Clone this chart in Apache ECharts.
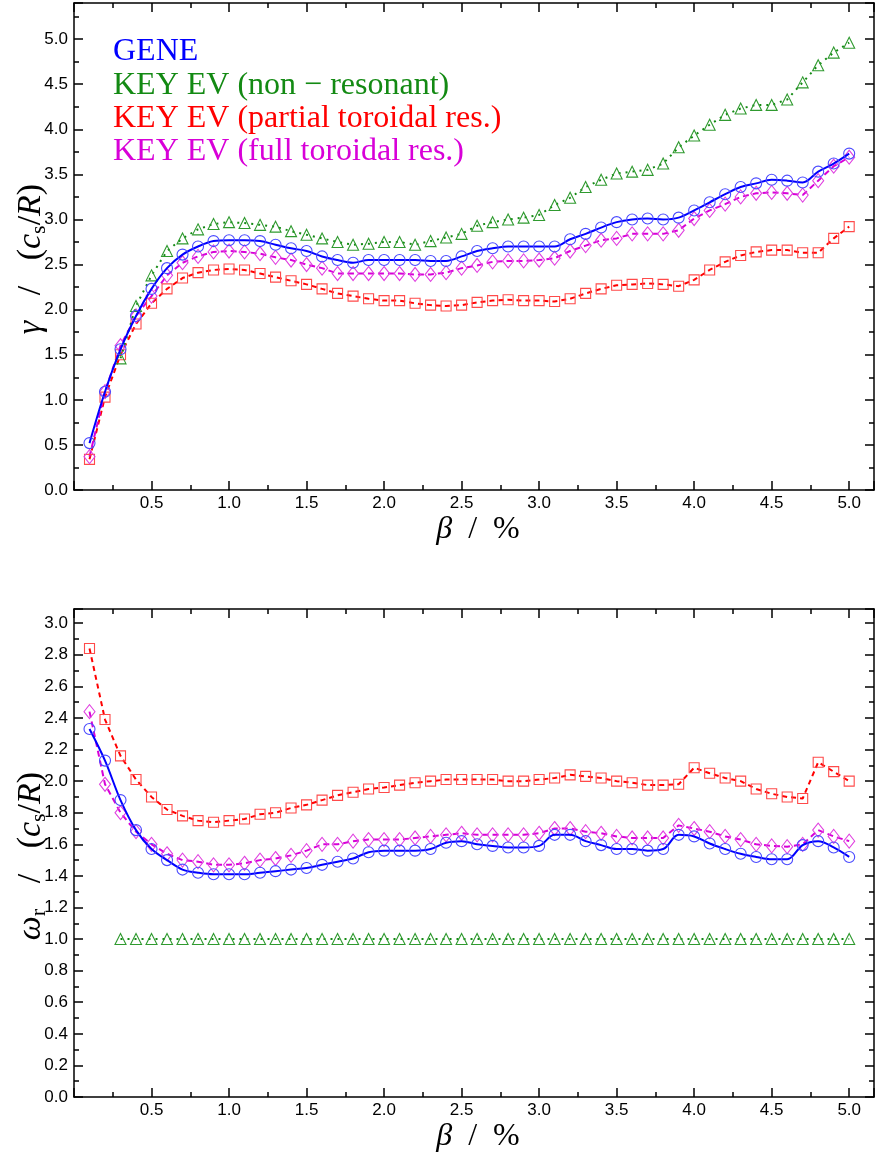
<!DOCTYPE html>
<html>
<head>
<meta charset="utf-8">
<title>Growth rate and real frequency vs beta</title>
<script src="https://cdn.jsdelivr.net/npm/echarts@6/dist/echarts.min.js"></script>
<style>
  html, body { margin: 0; padding: 0; background: #ffffff; }
  #chart { width: 876px; height: 1158px; }
</style>
</head>
<body>
<div id="chart"></div>
<script>
// beta in percent
const betas = [0.1, 0.2, 0.3, 0.4, 0.5, 0.6, 0.7, 0.8, 0.9, 1.0,
               1.1, 1.2, 1.3, 1.4, 1.5, 1.6, 1.7, 1.8, 1.9, 2.0,
               2.1, 2.2, 2.3, 2.4, 2.5, 2.6, 2.7, 2.8, 2.9, 3.0,
               3.1, 3.2, 3.3, 3.4, 3.5, 3.6, 3.7, 3.8, 3.9, 4.0,
               4.1, 4.2, 4.3, 4.4, 4.5, 4.6, 4.7, 4.8, 4.9, 5.0];

// growth rate gamma / (c_s/R)
const gammaGene = [0.52, 1.09, 1.56, 1.93, 2.23, 2.46, 2.61, 2.70, 2.76, 2.77,
                   2.77, 2.76, 2.72, 2.68, 2.65, 2.59, 2.55, 2.52, 2.55, 2.55,
                   2.55, 2.55, 2.54, 2.54, 2.59, 2.65, 2.68, 2.70, 2.70, 2.70,
                   2.70, 2.78, 2.84, 2.91, 2.97, 3.00, 3.01, 3.00, 3.02, 3.10,
                   3.19, 3.28, 3.36, 3.40, 3.44, 3.43, 3.41, 3.53, 3.62, 3.73];
const gammaNonRes = [null, null, 1.46, 2.04, 2.38, 2.65, 2.79, 2.89, 2.95, 2.97,
                     2.96, 2.94, 2.92, 2.87, 2.83, 2.79, 2.75, 2.72, 2.73, 2.75,
                     2.75, 2.72, 2.76, 2.80, 2.84, 2.93, 2.97, 3.00, 3.02, 3.05,
                     3.16, 3.24, 3.36, 3.44, 3.51, 3.53, 3.55, 3.62, 3.80, 3.93,
                     4.05, 4.16, 4.23, 4.27, 4.27, 4.33, 4.52, 4.71, 4.85, 4.96];
const gammaPartial = [0.34, 1.03, 1.50, 1.84, 2.07, 2.23, 2.35, 2.41, 2.44, 2.45,
                      2.44, 2.40, 2.36, 2.32, 2.28, 2.23, 2.18, 2.15, 2.12, 2.10,
                      2.10, 2.07, 2.05, 2.04, 2.05, 2.08, 2.10, 2.11, 2.10, 2.10,
                      2.09, 2.12, 2.18, 2.23, 2.27, 2.28, 2.29, 2.28, 2.26, 2.33,
                      2.44, 2.53, 2.60, 2.64, 2.66, 2.66, 2.63, 2.63, 2.79, 2.92];
const gammaFull = [0.37, 1.09, 1.60, 1.93, 2.15, 2.38, 2.52, 2.59, 2.64, 2.65,
                   2.64, 2.62, 2.58, 2.55, 2.50, 2.46, 2.40, 2.40, 2.40, 2.40,
                   2.40, 2.39, 2.39, 2.41, 2.46, 2.49, 2.53, 2.54, 2.54, 2.55,
                   2.57, 2.65, 2.71, 2.77, 2.79, 2.84, 2.84, 2.84, 2.88, 3.01,
                   3.10, 3.17, 3.25, 3.29, 3.30, 3.29, 3.27, 3.43, 3.59, 3.69];

// real frequency omega_r / (c_s/R)
const omegaGene = [2.33, 2.13, 1.88, 1.69, 1.57, 1.50, 1.44, 1.42, 1.41, 1.41,
                   1.41, 1.42, 1.43, 1.44, 1.45, 1.47, 1.49, 1.51, 1.55, 1.56,
                   1.56, 1.56, 1.57, 1.61, 1.62, 1.60, 1.59, 1.58, 1.58, 1.59,
                   1.66, 1.66, 1.62, 1.595, 1.57, 1.57, 1.56, 1.57, 1.66, 1.65,
                   1.605, 1.57, 1.54, 1.52, 1.505, 1.505, 1.595, 1.62, 1.58, 1.52];
const omegaNonRes = [null, null, 1.0, 1.0, 1.0, 1.0, 1.0, 1.0, 1.0, 1.0,
                     1.0, 1.0, 1.0, 1.0, 1.0, 1.0, 1.0, 1.0, 1.0, 1.0,
                     1.0, 1.0, 1.0, 1.0, 1.0, 1.0, 1.0, 1.0, 1.0, 1.0,
                     1.0, 1.0, 1.0, 1.0, 1.0, 1.0, 1.0, 1.0, 1.0, 1.0,
                     1.0, 1.0, 1.0, 1.0, 1.0, 1.0, 1.0, 1.0, 1.0, 1.0];
const omegaPartial = [2.84, 2.39, 2.16, 2.01, 1.90, 1.82, 1.78, 1.75, 1.74, 1.75,
                      1.76, 1.79, 1.80, 1.83, 1.85, 1.88, 1.91, 1.93, 1.95, 1.96,
                      1.975, 1.99, 2.00, 2.01, 2.01, 2.01, 2.01, 2.00, 2.00, 2.01,
                      2.02, 2.04, 2.03, 2.02, 2.00, 1.99, 1.975, 1.975, 1.98, 2.085,
                      2.05, 2.02, 2.00, 1.95, 1.92, 1.90, 1.89, 2.12, 2.06, 2.00];
const omegaFull = [2.44, 1.98, 1.80, 1.68, 1.60, 1.54, 1.50, 1.49, 1.47, 1.47,
                   1.48, 1.50, 1.51, 1.53, 1.56, 1.60, 1.60, 1.62, 1.63, 1.63,
                   1.63, 1.64, 1.65, 1.66, 1.67, 1.66, 1.66, 1.66, 1.66, 1.67,
                   1.70, 1.70, 1.68, 1.67, 1.65, 1.64, 1.64, 1.64, 1.72, 1.70,
                   1.68, 1.65, 1.63, 1.60, 1.59, 1.585, 1.60, 1.69, 1.65, 1.62];

// legend entries and axis tick labels
const legendLabels = ['GENE', 'KEY EV (non \u2212 resonant)', 'KEY EV (partial toroidal res.)', 'KEY EV (full toroidal res.)'];
const gammaTickStep = 0.5;
const omegaTickStep = 0.2;
const betaTickStep = 0.5;

const BLUE = '#0000ff';
const GREEN = '#138a13';
const RED = '#ff0000';
const MAGENTA = '#d800d8';

const chart = echarts.init(document.getElementById('chart'), null, { renderer: 'canvas' });

const pairs = (vals) => betas.map((b, i) => [b, vals[i]]).filter(p => p[1] !== null);

const axisLine = { show: true, onZero: false, lineStyle: { color: '#000', width: 1.5 } };
const tickStyle = { color: '#000', width: 1.5 };
const labelFont = { color: '#000', fontSize: 17, fontFamily: 'Liberation Sans, Arial, sans-serif' };

function xAxes(gridIndex) {
  const common = {
    type: 'value', gridIndex, min: 0, max: 5.16, interval: betaTickStep,
    axisLine, splitLine: { show: false },
    axisTick: { show: true, inside: true, length: 9, lineStyle: tickStyle },
    minorTick: { show: true, splitNumber: 2, length: 5, lineStyle: tickStyle }
  };
  return [
    Object.assign({}, common, {
      position: 'bottom',
      axisLabel: Object.assign({
        show: true, margin: 5, showMaxLabel: false,
        formatter: v => (Math.abs(v) < 1e-9 ? '' : v.toFixed(1))
      }, labelFont)
    }),
    Object.assign({}, common, { position: 'top', axisLabel: { show: false } })
  ];
}

function yAxes(gridIndex, max, step) {
  const common = {
    type: 'value', gridIndex, min: 0, max, interval: step,
    axisLine, splitLine: { show: false },
    axisTick: { show: true, inside: true, length: 9, lineStyle: tickStyle },
    minorTick: { show: true, splitNumber: 2, length: 5, lineStyle: tickStyle }
  };
  return [
    Object.assign({}, common, {
      position: 'left',
      axisLabel: Object.assign({
        show: true, margin: 6, showMaxLabel: false,
        formatter: v => v.toFixed(1)
      }, labelFont)
    }),
    Object.assign({}, common, { position: 'right', axisLabel: { show: false } })
  ];
}

function makeSeries(name, data, axisIdx, opts) {
  return {
    name, type: 'line', data: pairs(data),
    xAxisIndex: axisIdx, yAxisIndex: axisIdx,
    symbol: opts.symbol, symbolSize: opts.size, showSymbol: true,
    smooth: opts.smooth || false,
    lineStyle: { color: opts.color, width: 2, type: opts.dash },
    itemStyle: { color: 'rgba(255,255,255,0)', borderColor: opts.border, borderWidth: 1.1 },
    emphasis: { disabled: true },
    z: opts.z
  };
}

const styles = {
  gene:    { symbol: 'circle',   size: 11,       color: BLUE,    border: '#4a4aff', dash: 'solid', smooth: 0.35, z: 5 },
  nonres:  { symbol: 'triangle', size: 11,       color: GREEN,   border: '#2f9a2f', dash: [2, 5], z: 4 },
  partial: { symbol: 'rect',     size: 10,       color: RED,     border: '#ff4a4a', dash: [5, 4], z: 3 },
  full:    { symbol: 'diamond',  size: [11, 14], color: MAGENTA, border: '#e040e0', dash: [6, 4], z: 3 }
};

// axis titles (rich text with italic variables and subscripts)
function titleRich(size) {
  return {
    i:   { fontFamily: 'Liberation Serif', fontStyle: 'italic', fontSize: size, lineHeight: size + 4, fill: '#000' },
    n:   { fontFamily: 'Liberation Serif', fontSize: size, lineHeight: size + 4, fill: '#000' },
    sub: { fontFamily: 'Liberation Serif', fontSize: Math.round(size * 0.65), lineHeight: 21, verticalAlign: 'bottom', fill: '#000' }
  };
}

function axisTitle(text, x, y, rotate, size) {
  return {
    type: 'text', x, y, rotation: rotate ? Math.PI / 2 : 0,
    style: { text, rich: titleRich(size), align: 'center', verticalAlign: 'middle' }
  };
}

const legendColors = [BLUE, GREEN, RED, MAGENTA];
const legendTexts = legendLabels.map((t, i) => ({
  type: 'text', x: 113, y: 52 + i * 33.3,
  style: {
    text: t, fill: legendColors[i], fontFamily: 'Liberation Serif', fontSize: 32,
    align: 'left', verticalAlign: 'middle'
  }
}));

const option = {
  animation: false,
  backgroundColor: '#ffffff',
  grid: [
    { left: 74, top: 3, width: 800, height: 487 },
    { left: 74, top: 609, width: 800, height: 488 }
  ],
  xAxis: [...xAxes(0), ...xAxes(1)],
  yAxis: [...yAxes(0, 5.4, gammaTickStep), ...yAxes(1, 3.09, omegaTickStep)],
  series: [
    makeSeries(legendLabels[2], gammaPartial, 0, styles.partial),
    makeSeries(legendLabels[3], gammaFull, 0, styles.full),
    makeSeries(legendLabels[1], gammaNonRes, 0, styles.nonres),
    makeSeries(legendLabels[0], gammaGene, 0, styles.gene),
    makeSeries(legendLabels[2], omegaPartial, 2, styles.partial),
    makeSeries(legendLabels[3], omegaFull, 2, styles.full),
    makeSeries(legendLabels[1], omegaNonRes, 2, styles.nonres),
    makeSeries(legendLabels[0], omegaGene, 2, styles.gene)
  ],
  graphic: [
    ...legendTexts,
    axisTitle('{i|γ}{n|   /   (}{i|c}{sub|s}{n|/}{i|R}{n|)}', 31, 259, true, 34),
    axisTitle('{i|ω}{sub|r}{n|   /   (}{i|c}{sub|s}{n|/}{i|R}{n|)}', 31, 856, true, 34),
    axisTitle('{i|β}{n|  /  %}', 478, 530, false, 32),
    axisTitle('{i|β}{n|  /  %}', 478, 1137, false, 32)
  ]
};

chart.setOption(option);
</script>
</body>
</html>
